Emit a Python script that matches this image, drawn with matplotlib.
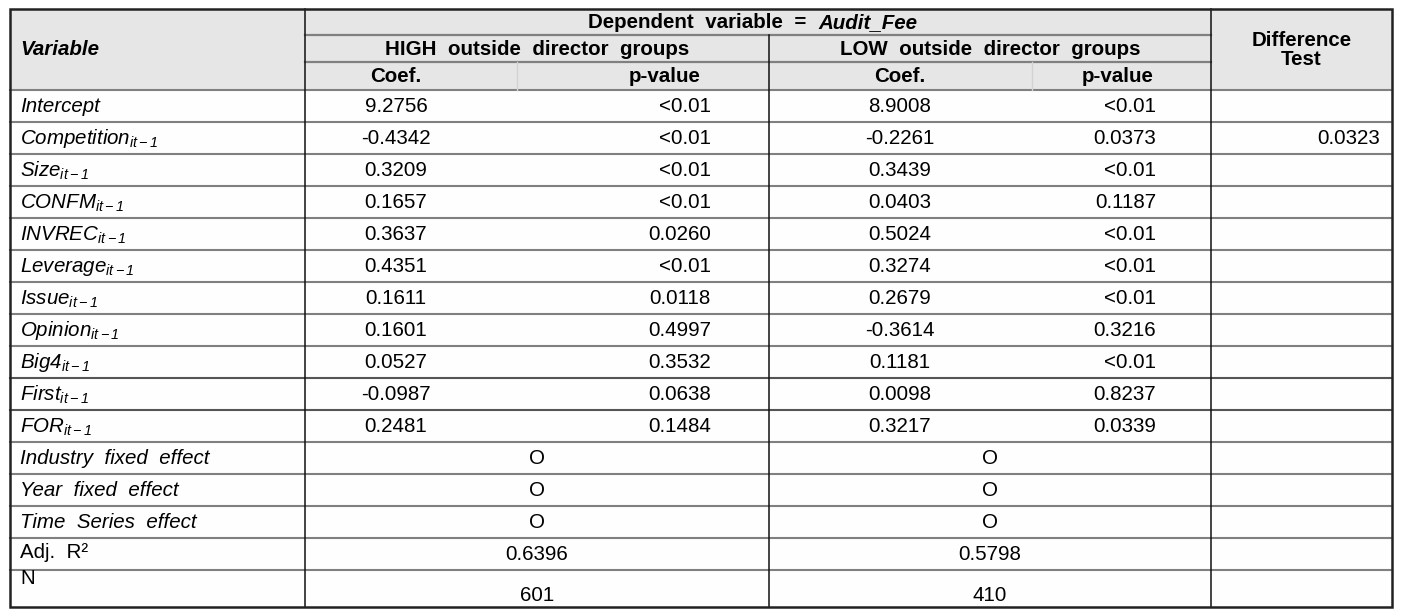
import matplotlib
matplotlib.use("Agg")
import matplotlib.pyplot as plt
from matplotlib.patches import Rectangle

plt.rcParams['font.family'] = ['Liberation Sans', 'DejaVu Sans']
plt.rcParams['mathtext.fontset'] = 'custom'
plt.rcParams['mathtext.it'] = 'Liberation Sans:italic'
plt.rcParams['mathtext.rm'] = 'Liberation Sans:italic'
plt.rcParams['mathtext.bf'] = 'Liberation Sans:bold'

# ---------------- data ----------------
variables = ['Intercept', 'Competition', 'Size', 'CONFM', 'INVREC', 'Leverage',
             'Issue', 'Opinion', 'Big4', 'First', 'FOR']
lagged = [False, True, True, True, True, True, True, True, True, True, True]
high_coef = [9.2756, -0.4342, 0.3209, 0.1657, 0.3637, 0.4351, 0.1611, 0.1601,
             0.0527, -0.0987, 0.2481]
high_p = [None, None, None, None, 0.0260, None, 0.0118, 0.4997, 0.3532, 0.0638, 0.1484]
low_coef = [8.9008, -0.2261, 0.3439, 0.0403, 0.5024, 0.3274, 0.2679, -0.3614,
            0.1181, 0.0098, 0.3217]
low_p = [None, 0.0373, None, 0.1187, None, None, None, 0.3216, None, 0.8237, 0.0339]
diff_test = [None, 0.0323, None, None, None, None, None, None, None, None, None]
effects = ['Industry  fixed  effect', 'Year  fixed  effect', 'Time  Series  effect']
effects_high = ['O', 'O', 'O']
effects_low = ['O', 'O', 'O']
adj_r2 = [0.6396, 0.5798]
n_obs = [601, 410]

# ---------------- layout ----------------
W, H = 1412, 611
fig = plt.figure(figsize=(W / 100, H / 100), dpi=100)
ax = fig.add_axes([0, 0, 1, 1])
ax.set_xlim(0, W)
ax.set_ylim(H, 0)
ax.axis('off')

L, R, T, B = 10, 1392, 9, 607
xv, xg2, xd = 305, 769, 1211          # column group boundaries
xs1, xs2 = 517, 1032                  # sub-column splits (header only)
hdr = [T, 35, 62, 90]
nrows = len(variables) + len(effects) + 2
row_edges = [90 + 32 * i for i in range(nrows)] + [B]

FS = 14.8
GRAY = '#808080'

# header background
ax.add_patch(Rectangle((L, T), R - L, hdr[3] - T, facecolor='#e6e6e6', edgecolor='none', zorder=0))
ax.add_patch(Rectangle((L, hdr[3]), R - L, B - hdr[3], facecolor='#fefefe', edgecolor='none', zorder=0))

# horizontal lines
ax.plot([xv, xd], [hdr[1], hdr[1]], color=GRAY, lw=1.6, zorder=2)
ax.plot([xv, xd], [hdr[2], hdr[2]], color=GRAY, lw=1.6, zorder=2)
for i, y in enumerate(row_edges[:-1]):
    c = '#555555' if i in (9, 10) else GRAY
    ax.plot([L, R], [y, y], color=c, lw=1.5, zorder=2)
# header sub splits (faint)
for x in (xs1, xs2):
    ax.plot([x, x], [hdr[2], hdr[3]], color='#d2d2d2', lw=1.0, zorder=2)
# vertical lines
ax.plot([xv, xv], [T, B], color='#111111', lw=1.1, zorder=3)
ax.plot([xd, xd], [T, B], color='#111111', lw=1.1, zorder=3)
ax.plot([xg2, xg2], [hdr[1], B], color='#111111', lw=1.1, zorder=3)
# outer border
ax.add_patch(Rectangle((L, T), R - L, B - T, facecolor='none', edgecolor='#222222', lw=1.8, zorder=4))

# header text
ax.text(20, (hdr[0] + hdr[3]) / 2, 'Variable', fontsize=FS, fontweight='bold', style='italic',
        ha='left', va='center')
jx = 818
ym = (hdr[0] + hdr[1]) / 2 + 1
ax.text(jx, ym, 'Dependent  variable  =  ', fontsize=FS, fontweight='bold', ha='right', va='center')
ax.text(jx, ym, 'Audit_Fee', fontsize=FS, fontweight='bold', style='italic', ha='left', va='center')
y2 = (hdr[1] + hdr[2]) / 2 + 1
ax.text((xv + xg2) / 2, y2, 'HIGH  outside  director  groups', fontsize=FS, fontweight='bold',
        ha='center', va='center')
ax.text((xg2 + xd) / 2, y2, 'LOW  outside  director  groups', fontsize=FS, fontweight='bold',
        ha='center', va='center')
y3 = (hdr[2] + hdr[3]) / 2 + 1
for x, s in [(396, 'Coef.'), (665, 'p-value'), (900, 'Coef.'), (1118, 'p-value')]:
    ax.text(x, y3, s, fontsize=FS, fontweight='bold', ha='center', va='center')
ax.text((xd + R) / 2, 50, 'Difference\nTest', fontsize=FS, fontweight='bold',
        ha='center', va='center', linespacing=1.05)


def fmt_p(p):
    return '<0.01' if p is None else f'{p:.4f}'


# body rows
for i, name in enumerate(variables):
    yc = (row_edges[i] + row_edges[i + 1]) / 2 + 1
    label = rf'${name}_{{it-1}}$' if lagged[i] else name
    ax.text(20, yc, label, fontsize=FS, style='italic', ha='left', va='center')
    ax.text(396, yc, f'{high_coef[i]:.4f}', fontsize=FS, ha='center', va='center')
    ax.text(711, yc, fmt_p(high_p[i]), fontsize=FS, ha='right', va='center')
    ax.text(900, yc, f'{low_coef[i]:.4f}', fontsize=FS, ha='center', va='center')
    ax.text(1156, yc, fmt_p(low_p[i]), fontsize=FS, ha='right', va='center')
    if diff_test[i] is not None:
        ax.text(1380, yc, f'{diff_test[i]:.4f}', fontsize=FS, ha='right', va='center')

off = len(variables)
for j, name in enumerate(effects):
    i = off + j
    yc = (row_edges[i] + row_edges[i + 1]) / 2 + 1
    ax.text(20, yc, name, fontsize=FS, style='italic', ha='left', va='center')
    ax.text((xv + xg2) / 2, yc, effects_high[j], fontsize=FS, ha='center', va='center')
    ax.text((xg2 + xd) / 2, yc, effects_low[j], fontsize=FS, ha='center', va='center')

i = off + len(effects)
yc = (row_edges[i] + row_edges[i + 1]) / 2 + 1
ax.text(20, yc - 2, 'Adj.  R²', fontsize=FS, ha='left', va='center')
ax.text((xv + xg2) / 2, yc, f'{adj_r2[0]:.4f}', fontsize=FS, ha='center', va='center')
ax.text((xg2 + xd) / 2, yc, f'{adj_r2[1]:.4f}', fontsize=FS, ha='center', va='center')

i += 1
ax.text(20, row_edges[i] + 9, 'N', fontsize=FS, ha='left', va='center')
yc = (row_edges[i] + row_edges[i + 1]) / 2 + 7
ax.text((xv + xg2) / 2, yc, f'{n_obs[0]}', fontsize=FS, ha='center', va='center')
ax.text((xg2 + xd) / 2, yc, f'{n_obs[1]}', fontsize=FS, ha='center', va='center')

fig.savefig('out.png', dpi=100)
